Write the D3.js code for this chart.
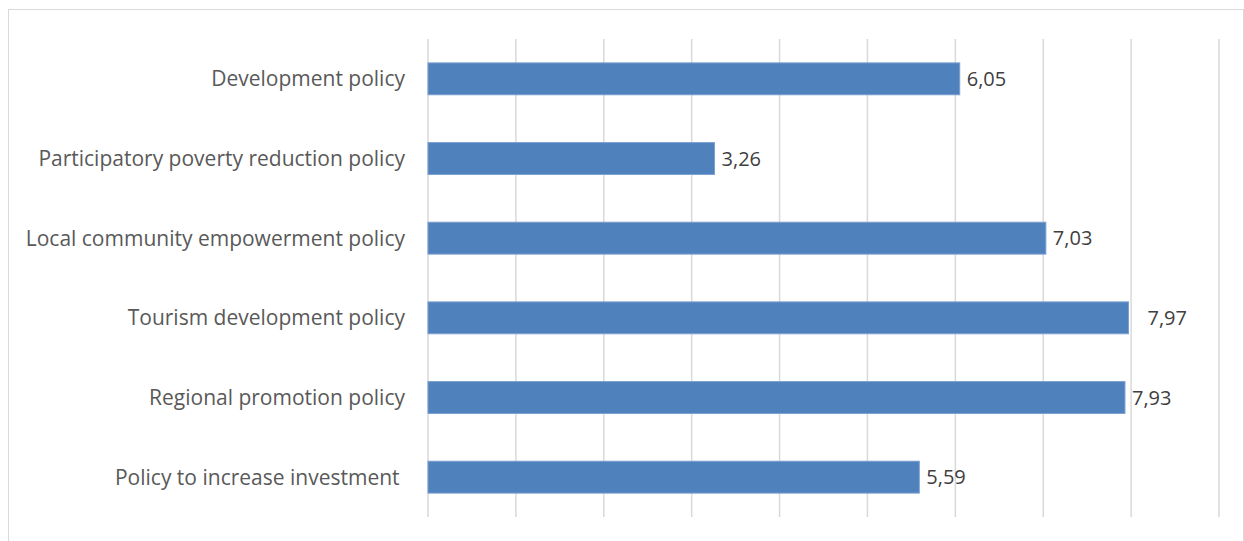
<!DOCTYPE html>
<html lang="en">
<head>
    <meta charset="UTF-8">
    <title>Policy scores</title>
    <script src="https://d3js.org/d3.v7.min.js"></script>
    <style>
        body { margin: 0; background: #fff; }
        text { font-family: "Open Sans", "Liberation Sans", sans-serif; }
        .cat-label { font-size: 21px; fill: #595959; white-space: pre; }
        .value-label { font-size: 20px; fill: #404040; }
        .grid line { stroke: #d9d9d9; stroke-width: 1.5px; }
    </style>
</head>
<body>
    <svg width="1244" height="541"></svg>
    <script>
        const categories = [
            "Development policy",
            "Participatory poverty reduction policy",
            "Local community empowerment policy",
            "Tourism development policy",
            "Regional promotion policy",
            "Policy to increase investment "
        ];
        const values = [6.05, 3.26, 7.03, 7.97, 7.93, 5.59];
        const ticks = [0, 1, 2, 3, 4, 5, 6, 7, 8, 9];

        const width = 1244, height = 541;
        const margin = {top: 39, right: 25, bottom: 24, left: 428};
        const svg = d3.select("svg");

        // chart border
        svg.append("rect")
            .attr("x", 8.5).attr("y", 9.5)
            .attr("width", width - 9).attr("height", height)
            .attr("fill", "none")
            .attr("stroke", "#d9d9d9");

        const x = d3.scaleLinear().domain([0, 9]).range([margin.left, 1219]);
        const y = d3.scaleBand().domain(categories)
            .range([margin.top, height - margin.bottom])
            .paddingInner(0.6).paddingOuter(0.3);

        svg.append("g").attr("class", "grid")
            .selectAll("line")
            .data(ticks)
            .enter().append("line")
            .attr("x1", d => x(d)).attr("x2", d => x(d))
            .attr("y1", margin.top).attr("y2", height - margin.bottom);

        svg.append("g")
            .selectAll("rect")
            .data(values)
            .enter().append("rect")
            .attr("x", x(0))
            .attr("y", (d, i) => y(categories[i]))
            .attr("width", d => x(d) - x(0))
            .attr("height", y.bandwidth())
            .attr("fill", "#4f81bd")
            .attr("stroke", "#7a9fd0")
            .attr("stroke-width", 1);

        svg.append("g")
            .selectAll("text")
            .data(categories)
            .enter().append("text")
            .attr("class", "cat-label")
            .attr("x", x(0) - 23)
            .attr("y", d => y(d) + y.bandwidth() / 2)
            .attr("dy", "0.35em")
            .attr("text-anchor", "end")
            .text(d => d);

        // Excel nudged the 7,97 label off the gridline
        svg.append("g")
            .selectAll("text")
            .data(values)
            .enter().append("text")
            .attr("class", "value-label")
            .attr("x", d => x(d) + (d === 7.97 ? 19 : 7))
            .attr("y", (d, i) => y(categories[i]) + y.bandwidth() / 2)
            .attr("dy", "0.35em")
            .text(d => d.toFixed(2).replace(".", ","));
    </script>
</body>
</html>
